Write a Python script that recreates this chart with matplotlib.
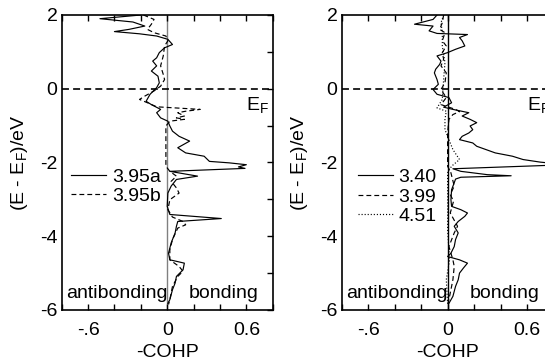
import matplotlib
matplotlib.use("Agg")
import matplotlib.pyplot as plt
from matplotlib.ticker import FixedLocator, FixedFormatter, MultipleLocator

plt.rcParams["font.family"] = ["Liberation Sans", "DejaVu Sans"]
plt.rcParams["mathtext.fontset"] = "custom"
plt.rcParams["mathtext.rm"] = "Liberation Sans"
plt.rcParams["mathtext.it"] = "Liberation Sans:italic"
plt.rcParams["lines.scale_dashes"] = False

# (E - EF, -COHP) pairs
cohp_395a = [
    (2.00, -0.20), (1.90, -0.51), (1.81, -0.26), (1.70, -0.17), (1.61, -0.29),
    (1.55, -0.40), (1.49, -0.21), (1.43, -0.08), (1.34, 0.005), (1.20, 0.04),
    (1.11, -0.02), (0.98, -0.06), (0.84, -0.08), (0.75, -0.11), (0.62, -0.08),
    (0.48, -0.12), (0.34, -0.07), (0.16, -0.06), (0.03, -0.08), (-0.15, -0.13),
    (-0.34, -0.16), (-0.43, -0.12), (-0.56, -0.05), (-0.65, -0.08), (-0.79, -0.05),
    (-0.88, 0.005), (-1.01, 0.02), (-1.15, 0.04), (-1.29, 0.09), (-1.42, 0.17),
    (-1.60, 0.08), (-1.74, 0.14), (-1.83, 0.28), (-1.97, 0.32), (-2.01, 0.47),
    (-2.06, 0.60), (-2.12, 0.54), (-2.16, 0.59), (-2.24, 0.02), (-2.37, 0.23),
    (-2.46, 0.07), (-2.64, 0.03), (-2.83, 0.005), (-3.19, 0.0), (-3.41, 0.02),
    (-3.52, 0.41), (-3.60, 0.08), (-3.73, 0.07), (-3.91, 0.06), (-4.18, 0.03),
    (-4.46, 0.01), (-4.64, 0.02), (-4.68, 0.07), (-4.73, 0.13), (-4.91, 0.12),
    (-5.09, 0.07), (-5.27, 0.06), (-5.45, 0.04), (-5.72, 0.02), (-5.82, 0.005),
]
cohp_395b = [
    (2.00, -0.18), (1.88, -0.10), (1.75, -0.12), (1.61, -0.15), (1.52, -0.10),
    (1.43, -0.01), (1.30, 0.005), (1.16, -0.02), (0.89, -0.03), (0.62, -0.05),
    (0.39, -0.03), (0.25, -0.02), (0.07, -0.05), (-0.06, -0.10), (-0.20, -0.17),
    (-0.29, -0.21), (-0.38, -0.15), (-0.49, -0.08), (-0.56, 0.25), (-0.61, 0.14),
    (-0.65, 0.08), (-0.74, 0.13), (-0.79, 0.07), (-0.83, 0.13), (-0.88, 0.02),
    (-1.01, -0.01), (-1.56, -0.01), (-2.10, -0.01), (-2.24, 0.02), (-2.37, 0.07),
    (-2.51, 0.03), (-2.69, 0.07), (-2.83, 0.09), (-3.01, 0.02), (-3.28, 0.005),
    (-3.48, 0.04), (-3.60, 0.12), (-3.69, 0.14), (-3.78, 0.08), (-4.09, 0.04),
    (-4.37, 0.02), (-4.64, 0.02), (-4.82, 0.09), (-4.95, 0.12), (-5.09, 0.08),
    (-5.36, 0.04), (-5.72, 0.02), (-5.85, 0.01),
]
cohp_340 = [
    (2.00, -0.08), (1.88, -0.11), (1.75, -0.25), (1.70, -0.11), (1.57, -0.14),
    (1.50, -0.08), (1.47, 0.15), (1.39, 0.09), (1.30, 0.11), (1.16, 0.13),
    (1.07, 0.06), (0.98, 0.0), (0.89, -0.08), (0.75, -0.05), (0.66, -0.06),
    (0.53, -0.09), (0.43, -0.10), (0.25, -0.08), (0.12, -0.07), (-0.02, -0.11),
    (-0.15, -0.08), (-0.24, 0.01), (-0.38, 0.03), (-0.50, -0.03), (-0.56, 0.04),
    (-0.65, 0.16), (-0.74, 0.11), (-0.83, 0.17), (-0.92, 0.22), (-1.01, 0.17),
    (-1.11, 0.19), (-1.20, 0.16), (-1.29, 0.11), (-1.38, 0.09), (-1.47, 0.19),
    (-1.56, 0.22), (-1.65, 0.29), (-1.74, 0.36), (-1.83, 0.49), (-1.92, 0.57),
    (-1.99, 0.70), (-2.06, 0.90), (-2.17, 0.04), (-2.24, 0.10), (-2.33, 0.30),
    (-2.36, 0.48), (-2.40, 0.10), (-2.45, 0.06), (-2.55, 0.05), (-2.74, 0.03),
    (-3.01, 0.025), (-3.19, 0.03), (-3.28, 0.10), (-3.37, 0.15), (-3.46, 0.13),
    (-3.60, 0.08), (-3.73, 0.05), (-3.91, 0.08), (-4.09, 0.06), (-4.28, 0.05),
    (-4.46, 0.025), (-4.55, 0.0), (-4.64, 0.09), (-4.73, 0.15), (-4.86, 0.12),
    (-5.00, 0.09), (-5.18, 0.08), (-5.36, 0.06), (-5.63, 0.04), (-5.82, 0.01),
]
cohp_399 = [
    (2.00, -0.03), (1.79, -0.04), (1.61, -0.06), (1.52, -0.02), (1.30, -0.04),
    (1.16, -0.01), (0.98, -0.04), (0.80, -0.03), (0.62, -0.05), (0.43, -0.01),
    (0.16, -0.02), (-0.02, -0.05), (-0.24, -0.01), (-0.43, -0.05), (-0.56, 0.06),
    (-0.62, 0.09), (-0.70, 0.04), (-0.83, 0.01), (-1.20, 0.0), (-2.10, 0.0),
    (-2.28, 0.025), (-2.64, 0.05), (-2.87, 0.02), (-3.05, 0.045), (-3.37, 0.02),
    (-3.73, 0.075), (-3.91, 0.05), (-4.28, 0.01), (-4.64, 0.04), (-4.82, 0.05),
    (-5.18, 0.04), (-5.63, 0.015), (-5.86, 0.0),
]
cohp_451 = [
    (2.00, -0.03), (1.79, -0.05), (1.52, -0.04), (1.16, -0.04), (0.71, -0.02),
    (0.25, -0.03), (-0.29, -0.04), (-0.52, -0.08), (-0.61, -0.01), (-0.83, -0.02),
    (-1.11, -0.02), (-1.38, 0.01), (-1.65, 0.04), (-1.92, 0.09), (-2.10, 0.03),
    (-2.28, 0.0), (-3.01, 0.0), (-3.82, 0.0), (-4.64, 0.015), (-5.18, -0.01),
    (-5.82, 0.0),
]

x_ticks = [-0.6, 0, 0.6]
x_ticklabels = ["-.6", "0", "0.6"]
y_ticks = [-6, -4, -2, 0, 2]
y_ticklabels = ["-6", "-4", "-2", "0", "2"]

SOLID = "-"
DASH = (0, (3.5, 2.2))
DOT = (0, (0.8, 1.4))

panels = [
    {"pos": [0.1132, 0.1484, 0.3872, 0.8104], "zero": "#808080",
     "series": [(cohp_395a, SOLID, "3.95a"), (cohp_395b, DASH, "3.95b")],
     "leg": (0.045, 0.418)},
    {"pos": [0.627, 0.1484, 0.3886, 0.8104], "zero": "black",
     "series": [(cohp_340, SOLID, "3.40"), (cohp_399, DASH, "3.99"), (cohp_451, DOT, "4.51")],
     "leg": (0.075, 0.384)},
]

fig = plt.figure(figsize=(5.45, 3.64), dpi=100)

for p in panels:
    ax = fig.add_axes(p["pos"])
    ax.set_xlim(-0.8, 0.8)
    ax.set_ylim(-6, 2)
    ax.axvline(0, color=p["zero"], lw=1.0, zorder=1)
    ax.axhline(0, color="black", lw=1.2, linestyle=(0, (5, 3)), zorder=1)
    for data, ls, lab in p["series"]:
        e = [d[0] for d in data]
        c = [d[1] for d in data]
        ax.plot(c, e, color="black", lw=0.85, linestyle=ls, label=lab, zorder=2)

    ax.xaxis.set_major_locator(FixedLocator(x_ticks))
    ax.xaxis.set_major_formatter(FixedFormatter(x_ticklabels))
    ax.xaxis.set_minor_locator(MultipleLocator(0.2))
    ax.yaxis.set_major_locator(FixedLocator(y_ticks))
    ax.yaxis.set_major_formatter(FixedFormatter(y_ticklabels))
    ax.yaxis.set_minor_locator(MultipleLocator(1))
    ax.tick_params(axis="x", which="both", direction="in", top=True, bottom=True,
                   length=4, width=1.0, labelsize=14, pad=9)
    ax.tick_params(axis="y", which="both", direction="in", left=False, right=True,
                   length=4, width=1.0, labelsize=14, pad=3)
    for s in ax.spines.values():
        s.set_linewidth(1.2)

    ax.set_xlabel("-COHP", fontsize=14)
    ax.xaxis.set_label_coords(0.5, -0.115)
    ax.set_ylabel(r"(E - E$_\mathrm{F}$)/eV", fontsize=14)
    ax.yaxis.set_label_coords(-0.15, 0.5)

    ax.text(0.6, -0.43, r"E$_\mathrm{F}$", fontsize=14, ha="left", va="center")
    ax.text(-0.77, -5.54, "antibonding", fontsize=14, ha="left", va="center")
    ax.text(0.165, -5.54, "bonding", fontsize=14, ha="left", va="center")

    ax.legend(loc="center left", bbox_to_anchor=p["leg"], frameon=False, fontsize=14,
              handlelength=1.8, handletextpad=0.3, labelspacing=0.1,
              borderpad=0, borderaxespad=0)

fig.savefig("out.png", dpi=100)
